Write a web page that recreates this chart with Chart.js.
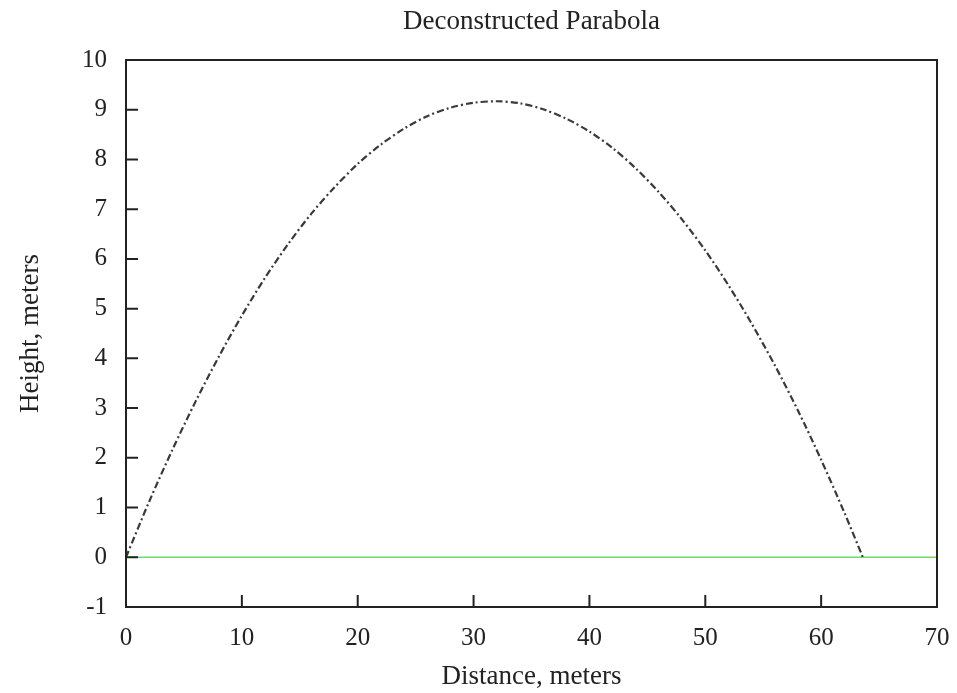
<!DOCTYPE html>
<html><head><meta charset="utf-8">
<script src="https://cdn.jsdelivr.net/npm/chart.js@4"></script>
<style>html,body{margin:0;padding:0;background:#fff}</style>
</head><body>
<canvas id="c" width="957" height="693" style="width:957px;height:693px;display:block"></canvas>
<script>
// Trajectory (distance in metres, height in metres)
const distance = [0, 2, 4, 6, 8, 10, 12, 14, 16, 18, 20, 22, 24, 26, 28, 30, 32, 34, 36, 38, 40, 42, 44, 46, 48, 50, 52, 54, 56, 58, 60, 62, 63.6];
const height   = [0, 1.12, 2.16, 3.13, 4.03, 4.86, 5.62, 6.30, 6.91, 7.44, 7.91, 8.30, 8.62, 8.87, 9.04, 9.14, 9.17, 9.13, 9.01, 8.82, 8.56, 8.23, 7.82, 7.34, 6.79, 6.17, 5.47, 4.70, 3.86, 2.95, 1.96, 0.90, 0];
const groundX = [0, 70];
const groundY = [0, 0];
const xTickValues = [0, 10, 20, 30, 40, 50, 60, 70];
const yTickValues = [-1, 0, 1, 2, 3, 4, 5, 6, 7, 8, 9, 10];
const titleText = 'Deconstructed Parabola';
const xTitle = 'Distance, meters';
const yTitle = 'Height, meters';

const FONT = "'Liberation Serif', 'Times New Roman', serif";
const INK = '#222';

const frame = {
  id: 'frame',
  afterDraw(chart) {
    const {ctx, chartArea: a, scales} = chart;
    ctx.save();
    ctx.strokeStyle = INK;
    ctx.lineWidth = 2;
    ctx.beginPath();
    xTickValues.forEach(v => {
      if (v === 0 || v === 70) return;
      const px = scales.x.getPixelForValue(v);
      ctx.moveTo(px, a.bottom); ctx.lineTo(px, a.bottom - 12);
    });
    yTickValues.forEach(v => {
      if (v === -1 || v === 10) return;
      const py = scales.y.getPixelForValue(v);
      ctx.moveTo(a.left, py); ctx.lineTo(a.left + 12, py);
    });
    ctx.stroke();
    ctx.strokeRect(a.left, a.top, a.right - a.left, a.bottom - a.top);
    ctx.restore();
  }
};

new Chart(document.getElementById('c'), {
  type: 'scatter',
  data: {
    datasets: [
      {
        data: groundX.map((x, i) => ({x, y: groundY[i]})),
        showLine: true, borderColor: '#4ef04e', borderWidth: 1.5,
        pointRadius: 0, order: 2
      },
      {
        data: distance.map((x, i) => ({x, y: height[i]})),
        showLine: true, borderColor: '#3a3a3a', borderWidth: 2.2,
        borderDash: [7, 3, 2, 3], tension: 0.3,
        pointRadius: 0, order: 1
      }
    ]
  },
  options: {
    responsive: false,
    animation: false,
    devicePixelRatio: 1,
    layout: {padding: {left: 0, right: 20, top: 0, bottom: 0}},
    plugins: {
      legend: {display: false},
      tooltip: {enabled: false},
      title: {
        display: true, text: titleText, color: INK, fullSize: false,
        font: {family: FONT, size: 27, weight: 'normal'},
        padding: {top: 6, bottom: 21.6}
      }
    },
    scales: {
      x: {
        type: 'linear', min: 0, max: 70,
        afterBuildTicks: s => { s.ticks = xTickValues.map(v => ({value: v})); },
        afterFit: s => { s.height = 86; s.paddingRight = 0; s.paddingLeft = 0; },
        grid: {display: false, drawTicks: false},
        border: {display: false},
        ticks: {color: INK, font: {family: FONT, size: 25}, padding: 16, maxRotation: 0, autoSkip: false},
        title: {display: true, text: xTitle, color: INK, font: {family: FONT, size: 27}, padding: {top: 0, bottom: 0}}
      },
      y: {
        type: 'linear', min: -1, max: 10,
        afterBuildTicks: s => { s.ticks = yTickValues.map(v => ({value: v})); },
        afterFit: s => { s.width = 126; },
        grid: {display: false, drawTicks: false},
        border: {display: false},
        ticks: {color: INK, font: {family: FONT, size: 25}, padding: 19, autoSkip: false},
        title: {display: true, text: yTitle, color: INK, font: {family: FONT, size: 27}, padding: {top: 15, bottom: 0}}
      }
    }
  },
  plugins: [frame]
});
</script>
</body></html>
